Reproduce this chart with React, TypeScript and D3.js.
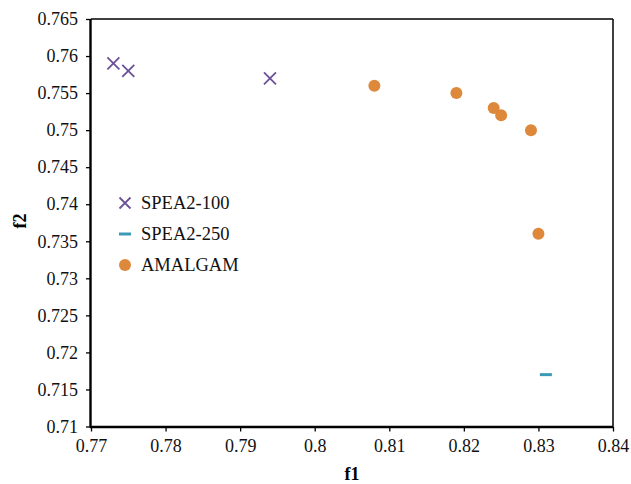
import React, { useEffect, useRef } from "react";
import * as d3 from "d3";

const spea100X = [0.773, 0.775, 0.794];
const spea100Y = [0.759, 0.758, 0.757];
const spea250X = [0.831];
const spea250Y = [0.717];
const amalgamX = [0.808, 0.819, 0.824, 0.825, 0.829, 0.83];
const amalgamY = [0.756, 0.755, 0.753, 0.752, 0.75, 0.736];
const xTicks = [0.77, 0.78, 0.79, 0.8, 0.81, 0.82, 0.83, 0.84];
const yTicks = [0.71, 0.715, 0.72, 0.725, 0.73, 0.735, 0.74, 0.745, 0.75, 0.755, 0.76, 0.765];
const seriesNames = ["SPEA2-100", "SPEA2-250", "AMALGAM"];

const PURPLE = "#6b5197";
const TEAL = "#3a99b5";
const ORANGE = "#de883b";

const App = () => {
  const svgRef = useRef<SVGSVGElement>(null);

  useEffect(() => {
    const svg = d3.select(svgRef.current);
    svg.selectAll("*").remove();

    const left = 91, right = 613, top = 19, bottom = 426.5;
    const x = d3.scaleLinear().domain([0.77, 0.84]).range([left, right]);
    const y = d3.scaleLinear().domain([0.71, 0.765]).range([bottom, top]);
    const font = "'Liberation Serif', 'Times New Roman', serif";

    svg.append("rect").attr("width", 631).attr("height", 484).attr("fill", "#fff");

    // frame
    svg.append("line").attr("x1", left).attr("x2", right).attr("y1", top).attr("y2", top)
      .attr("stroke", "#000").attr("stroke-width", 1.3);
    svg.append("line").attr("x1", right).attr("x2", right).attr("y1", top).attr("y2", bottom)
      .attr("stroke", "#000").attr("stroke-width", 1.5);

    const xAxis = svg.append("g")
      .attr("transform", `translate(0,${bottom})`)
      .call(d3.axisBottom(x).tickValues(xTicks).tickSize(5).tickPadding(8).tickFormat(d => String(+d)));
    const yAxis = svg.append("g")
      .attr("transform", `translate(${left},0)`)
      .call(d3.axisLeft(y).tickValues(yTicks).tickSize(5).tickPadding(8).tickFormat(d => String(+d)));

    [xAxis, yAxis].forEach(g => {
      g.select(".domain").attr("stroke-width", 2.4);
      g.selectAll(".tick line").attr("stroke-width", 1.3);
      g.selectAll("text").attr("font-family", font).attr("font-size", 18).attr("fill", "#111");
    });
    xAxis.select(".domain").attr("d", `M${left - 1},0.5H${right}`);
    yAxis.select(".domain").attr("d", `M-0.5,${top}V${bottom + 1}`);

    svg.append("text").attr("x", (left + right) / 2).attr("y", 480)
      .attr("text-anchor", "middle").attr("font-family", font).attr("font-weight", "bold")
      .attr("font-size", 18).text("f1");
    svg.append("text").attr("transform", `translate(26,221) rotate(-90)`)
      .attr("text-anchor", "middle").attr("font-family", font).attr("font-weight", "bold")
      .attr("font-size", 18).text("f2");

    const cross = (g: any, cx: number, cy: number, s: number) => {
      g.append("path")
        .attr("d", `M${cx - s},${cy - s}L${cx + s},${cy + s}M${cx - s},${cy + s}L${cx + s},${cy - s}`)
        .attr("stroke", PURPLE).attr("stroke-width", 1.8).attr("fill", "none");
    };
    const dash = (g: any, cx: number, cy: number) => {
      g.append("line").attr("x1", cx - 6).attr("x2", cx + 6).attr("y1", cy).attr("y2", cy)
        .attr("stroke", TEAL).attr("stroke-width", 3);
    };

    const pts = svg.append("g");
    spea100X.forEach((v, i) => cross(pts, x(v), y(spea100Y[i]), 6));
    spea250X.forEach((v, i) => dash(pts, x(v), y(spea250Y[i])));
    pts.selectAll("circle.am").data(amalgamX).enter().append("circle")
      .attr("cx", d => x(d)).attr("cy", (d, i) => y(amalgamY[i])).attr("r", 6)
      .attr("fill", ORANGE);

    // legend
    const lg = svg.append("g");
    seriesNames.forEach((name, i) => {
      const cy = 203 + i * 31;
      if (i === 0) cross(lg, 125, cy, 5.5);
      if (i === 1) dash(lg, 125, cy);
      if (i === 2) lg.append("circle").attr("cx", 125).attr("cy", cy).attr("r", 6).attr("fill", ORANGE);
      lg.append("text").attr("x", 141).attr("y", cy + 6)
        .attr("font-family", font).attr("font-size", 18.5).attr("fill", "#111").text(name);
    });
  }, []);

  return (
    <svg ref={svgRef} width={631} height={484} style={{ position: "absolute", left: 0, top: 0 }} />
  );
};

export default App;
